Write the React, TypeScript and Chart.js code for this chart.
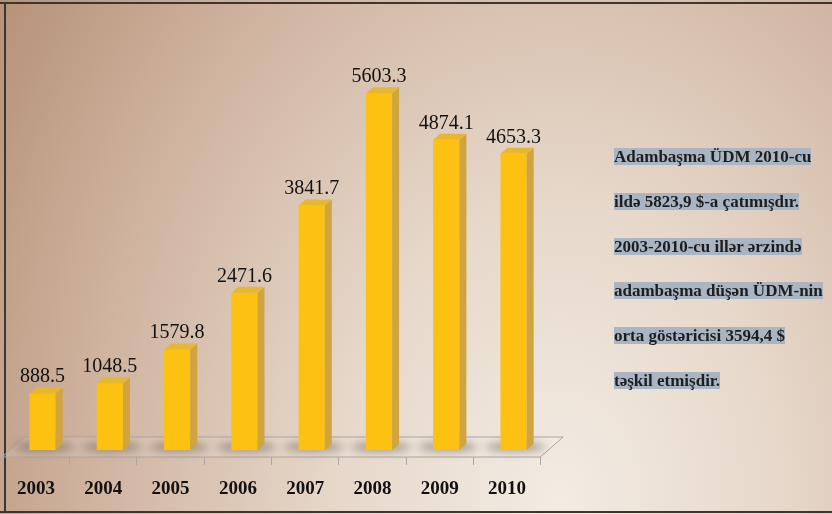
import React, { useEffect, useRef } from "react";
import { Chart, registerables } from "chart.js";

Chart.register(...registerables);

const years = ["2003", "2004", "2005", "2006", "2007", "2008", "2009", "2010"];
const gdpPerCapita = [888.5, 1048.5, 1579.8, 2471.6, 3841.7, 5603.3, 4874.1, 4653.3];
const noteLines = [
  "Adambaşma ÜDM 2010-cu",
  "ildə 5823,9 $-a çatımışdır.",
  "2003-2010-cu illər ərzində",
  "adambaşma düşən ÜDM-nin",
  "orta göstəricisi 3594,4 $",
  "təşkil etmişdir.",
];

const SERIF = '"Liberation Serif", "Times New Roman", serif';
const DX = 7;
const DY = 6;

const backgroundPlugin = {
  id: "bgPlugin",
  beforeDraw(chart: any) {
    const { ctx, width, height } = chart;
    ctx.save();
    ctx.fillStyle = "#ffffff";
    ctx.fillRect(0, 0, width, height);
    ctx.save();
    ctx.translate(560, 500);
    ctx.scale(1, 1.35);
    const g = ctx.createRadialGradient(0, 0, 0, 0, 0, 760);
    g.addColorStop(0, "#f2ece4");
    g.addColorStop(0.3, "#e6d7c9");
    g.addColorStop(0.62, "#cfb39f");
    g.addColorStop(0.85, "#b9967d");
    g.addColorStop(1, "#aa8468");
    ctx.fillStyle = g;
    ctx.fillRect(-700, -450, 1600, 600);
    ctx.restore();
    ctx.fillStyle = "#3d3630";
    ctx.fillRect(0, 2, width, 2);
    ctx.fillRect(4, 2, 2, height - 3);
    ctx.fillRect(0, height - 3, width, 2);
    ctx.restore();
  },
};

const floorPlugin = {
  id: "floorPlugin",
  beforeDatasetsDraw(chart: any) {
    const { ctx, chartArea, scales } = chart;
    const xs = scales.x;
    const bottom = chartArea.bottom;
    const fy = bottom + 7;
    const by = bottom - 13;
    const fl = chartArea.left - 7;
    const fr = chartArea.right - 7;
    const bl = chartArea.left + 16;
    const br = chartArea.right + 16;
    ctx.save();
    ctx.beginPath();
    ctx.moveTo(fl, fy);
    ctx.lineTo(fr, fy);
    ctx.lineTo(br, by);
    ctx.lineTo(bl, by);
    ctx.closePath();
    ctx.fillStyle = "rgba(255,255,255,0.12)";
    ctx.fill();
    ctx.strokeStyle = "#ada6a3";
    ctx.lineWidth = 1;
    ctx.stroke();
    const n = years.length;
    const step = (xs.getPixelForValue(n - 1) - xs.getPixelForValue(0)) / (n - 1);
    ctx.beginPath();
    for (let i = 0; i <= n; i++) {
      const x = Math.round(xs.getPixelForValue(0) - step / 2 + i * step - 7) + 0.5;
      ctx.moveTo(x, fy);
      ctx.lineTo(x, fy + 8);
    }
    ctx.stroke();
    const meta = chart.getDatasetMeta(0);
    ctx.filter = "blur(4px)";
    meta.data.forEach((bar: any) => {
      ctx.beginPath();
      ctx.ellipse(bar.x + 2, bottom - 3, 30, 5, 0, 0, Math.PI * 2);
      ctx.fillStyle = "rgba(95,85,80,0.5)";
      ctx.fill();
    });
    ctx.filter = "none";
    ctx.restore();
  },
};

const bars3dPlugin = {
  id: "bars3dPlugin",
  afterDatasetsDraw(chart: any) {
    const { ctx } = chart;
    const meta = chart.getDatasetMeta(0);
    const data = chart.data.datasets[0].data as number[];
    ctx.save();
    meta.data.forEach((bar: any, i: number) => {
      const w = bar.width;
      const x0 = bar.x - w / 2;
      const x1 = bar.x + w / 2;
      const y = bar.y;
      const base = bar.base;
      ctx.beginPath();
      ctx.moveTo(x1, y);
      ctx.lineTo(x1 + DX, y - DY);
      ctx.lineTo(x1 + DX, base - DY);
      ctx.lineTo(x1, base);
      ctx.closePath();
      ctx.fillStyle = "#d0a43e";
      ctx.fill();
      ctx.beginPath();
      ctx.moveTo(x0, y);
      ctx.lineTo(x0 + DX, y - DY);
      ctx.lineTo(x1 + DX, y - DY);
      ctx.lineTo(x1, y);
      ctx.closePath();
      ctx.fillStyle = "#e8b730";
      ctx.fill();
      ctx.fillStyle = "#111111";
      ctx.font = `20px ${SERIF}`;
      ctx.textAlign = "center";
      ctx.textBaseline = "alphabetic";
      ctx.fillText(data[i].toFixed(1), bar.x, y - 11);
    });
    ctx.restore();
  },
};

export default function App() {
  const ref = useRef<HTMLCanvasElement | null>(null);
  useEffect(() => {
    if (!ref.current) return;
    const chart = new Chart(ref.current, {
      type: "bar",
      data: {
        labels: years,
        datasets: [
          {
            data: gdpPerCapita,
            backgroundColor: "#fdc112",
            borderWidth: 0,
            barPercentage: 0.39,
            categoryPercentage: 1,
          },
        ],
      },
      options: {
        responsive: false,
        animation: false,
        events: [],
        layout: { padding: { left: 8.9, right: 284.8, top: 68, bottom: 13.6 } },
        plugins: { legend: { display: false }, tooltip: { enabled: false } },
        scales: {
          x: {
            grid: { display: false, drawTicks: false },
            border: { display: false },
            ticks: {
              color: "#111111",
              font: { family: SERIF, size: 19, weight: "bold" },
              padding: 27.6,
              labelOffset: -6.5,
            },
            afterFit(scale: any) {
              scale.height = 50.4;
              scale.paddingLeft = 0;
              scale.paddingRight = 0;
            },
          },
          y: { display: false, min: 0, max: 6000 },
        },
      },
      plugins: [backgroundPlugin, floorPlugin, bars3dPlugin],
    } as any);
    return () => chart.destroy();
  }, []);

  const centers = [156.5, 201, 246, 290.5, 335, 380];
  return (
    <div style={{ position: "absolute", left: 0, top: 0, width: 832, height: 514, overflow: "hidden" }}>
      <canvas ref={ref} width={832} height={514} style={{ display: "block" }} />
      {noteLines.map((line, i) => (
        <span
          key={i}
          style={{
            position: "absolute",
            left: 614,
            top: centers[i] - 8.5,
            height: 17,
            lineHeight: "17px",
            fontFamily: SERIF,
            fontSize: 17,
            fontWeight: "bold",
            color: "#1e1e1e",
            background: "#a9b5c3",
            whiteSpace: "nowrap",
          }}
        >
          {line}
        </span>
      ))}
    </div>
  );
}
